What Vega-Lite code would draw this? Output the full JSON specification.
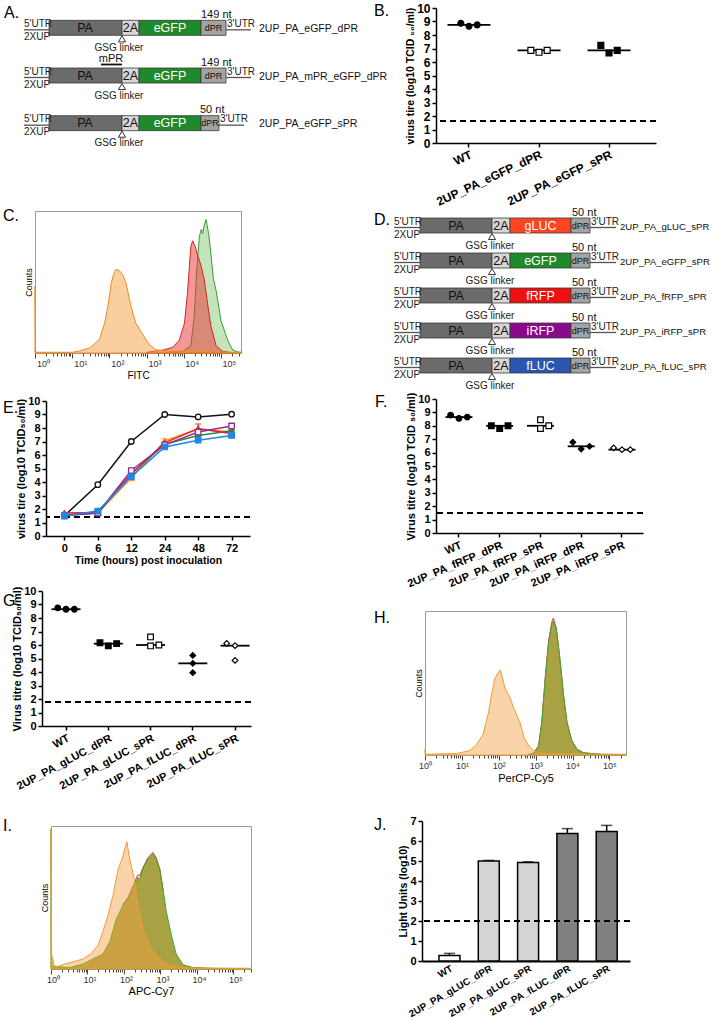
{
"$schema": "https://vega.github.io/schema/vega-lite/v6.json",
"background": "white",
"padding": 0,
"spacing": 0,
"bounds": "flush",
"resolve": {"scale": {"fill": "independent", "shape": "independent", "stroke": "independent", "color": "independent", "xOffset": "independent", "size": "independent", "opacity": "independent"}},
"config": {
  "view": {"stroke": null},
  "font": "Liberation Sans",
  "axis": {"labelFont": "Liberation Sans", "titleFont": "Liberation Sans", "labelColor": "#000", "titleColor": "#000", "domainColor": "#000", "tickColor": "#000", "grid": false},
  "title": {"font": "Liberation Sans", "fontSize": 16, "fontWeight": "normal", "anchor": "start", "frame": "group", "orient": "none", "baseline": "middle", "offset": 0, "color": "#000"},
  "text": {"font": "Liberation Sans"}
},
"vconcat": [
{"spacing":0,"bounds":"flush","vconcat":[
{"width":1,"height":1,"data":{"values":[{}]},"mark":{"type":"point","opacity":0}},
{"spacing":0,"bounds":"flush","hconcat":[
{"width":1,"height":1,"data":{"values":[{}]},"mark":{"type":"point","opacity":0}},
{
"width": 330, "height": 143,
"title": {"text": "A.", "dx": 0, "dy": 1},
"data": {"values": [
{"k":"seg","c":"2UP_PA_eGFP_dPR","part":"PA","s":45,"e":118,"x":81,"t":"PA"},
{"k":"seg","c":"2UP_PA_eGFP_dPR","part":"2A","s":118,"e":135,"x":126.5,"t":"2A"},
{"k":"seg","c":"2UP_PA_eGFP_dPR","part":"eGFP","s":135,"e":197,"x":166,"t":"eGFP"},
{"k":"seg","c":"2UP_PA_eGFP_dPR","part":"dPR","s":197,"e":222,"x":209.5,"t":"dPR"},
{"k":"utr","c":"2UP_PA_eGFP_dPR","s":20,"e":45},
{"k":"utr","c":"2UP_PA_eGFP_dPR","s":222,"e":247},
{"k":"up","c":"2UP_PA_eGFP_dPR","x":20,"t":"5'UTR"},
{"k":"up","c":"2UP_PA_eGFP_dPR","x":223,"t":"3'UTR"},
{"k":"down","c":"2UP_PA_eGFP_dPR","x":20,"t":"2XUP"},
{"k":"name","c":"2UP_PA_eGFP_dPR","x":255,"t":"2UP_PA_eGFP_dPR"},
{"k":"nt","c":"2UP_PA_eGFP_dPR","x":197,"t":"149 nt"},
{"k":"gsg","c":"2UP_PA_eGFP_dPR","x":115,"t":"GSG linker"},
{"k":"tri","c":"2UP_PA_eGFP_dPR","x":118},
{"k":"seg","c":"2UP_PA_mPR_eGFP_dPR","part":"PA","s":45,"e":118,"x":81,"t":"PA"},
{"k":"seg","c":"2UP_PA_mPR_eGFP_dPR","part":"2A","s":118,"e":135,"x":126.5,"t":"2A"},
{"k":"seg","c":"2UP_PA_mPR_eGFP_dPR","part":"eGFP","s":135,"e":197,"x":166,"t":"eGFP"},
{"k":"seg","c":"2UP_PA_mPR_eGFP_dPR","part":"dPR","s":197,"e":222,"x":209.5,"t":"dPR"},
{"k":"utr","c":"2UP_PA_mPR_eGFP_dPR","s":20,"e":45},
{"k":"utr","c":"2UP_PA_mPR_eGFP_dPR","s":222,"e":247},
{"k":"up","c":"2UP_PA_mPR_eGFP_dPR","x":20,"t":"5'UTR"},
{"k":"up","c":"2UP_PA_mPR_eGFP_dPR","x":223,"t":"3'UTR"},
{"k":"down","c":"2UP_PA_mPR_eGFP_dPR","x":20,"t":"2XUP"},
{"k":"name","c":"2UP_PA_mPR_eGFP_dPR","x":255,"t":"2UP_PA_mPR_eGFP_dPR"},
{"k":"nt","c":"2UP_PA_mPR_eGFP_dPR","x":197,"t":"149 nt"},
{"k":"gsg","c":"2UP_PA_mPR_eGFP_dPR","x":115,"t":"GSG linker"},
{"k":"tri","c":"2UP_PA_mPR_eGFP_dPR","x":118},
{"k":"mpr","c":"2UP_PA_mPR_eGFP_dPR","x":107,"t":"mPR"},
{"k":"ul","c":"2UP_PA_mPR_eGFP_dPR","s":97,"e":118},
{"k":"seg","c":"2UP_PA_eGFP_sPR","part":"PA","s":45,"e":118,"x":81,"t":"PA"},
{"k":"seg","c":"2UP_PA_eGFP_sPR","part":"2A","s":118,"e":135,"x":126.5,"t":"2A"},
{"k":"seg","c":"2UP_PA_eGFP_sPR","part":"eGFP","s":135,"e":197,"x":166,"t":"eGFP"},
{"k":"seg","c":"2UP_PA_eGFP_sPR","part":"dPR","s":197,"e":215,"x":206,"t":"dPR"},
{"k":"utr","c":"2UP_PA_eGFP_sPR","s":20,"e":45},
{"k":"utr","c":"2UP_PA_eGFP_sPR","s":215,"e":240},
{"k":"up","c":"2UP_PA_eGFP_sPR","x":20,"t":"5'UTR"},
{"k":"up","c":"2UP_PA_eGFP_sPR","x":216,"t":"3'UTR"},
{"k":"down","c":"2UP_PA_eGFP_sPR","x":20,"t":"2XUP"},
{"k":"name","c":"2UP_PA_eGFP_sPR","x":255,"t":"2UP_PA_eGFP_sPR"},
{"k":"nt","c":"2UP_PA_eGFP_sPR","x":196,"t":"50 nt"},
{"k":"gsg","c":"2UP_PA_eGFP_sPR","x":115,"t":"GSG linker"},
{"k":"tri","c":"2UP_PA_eGFP_sPR","x":118}
]},
"encoding": {"y": {"field":"c","type":"nominal","sort":null,"scale":{"domain":["2UP_PA_eGFP_dPR","2UP_PA_mPR_eGFP_dPR","2UP_PA_eGFP_sPR"],"paddingInner":0,"paddingOuter":0},"axis":null}},
"layer": [
{"transform":[{"filter":"datum.k=='utr'"}],"mark":{"type":"rule","color":"#555","strokeWidth":1.3,"yOffset":2},"encoding":{"x":{"field":"s","type":"quantitative","scale":{"domain":[0,330],"nice":false,"zero":false},"axis":null},"x2":{"field":"e"}}},
{"transform":[{"filter":"datum.k=='seg'"}],"mark":{"type":"bar","height":15,"stroke":"#3a3a3a","strokeWidth":0.8},"encoding":{"x":{"field":"s","type":"quantitative","scale":{"domain":[0,330],"nice":false,"zero":false},"axis":null},"x2":{"field":"e"},"fill":{"field":"part","type":"nominal","scale":{"domain":["PA","2A","dPR","eGFP","gLUC","fRFP","iRFP","fLUC"],"range":["#6b6b6b","#d6d6d6","#a3a3a3","#1f8a2c","#ff4422","#ee1111","#8b0a8b","#2a55b0"]},"legend":null}}},
{"transform":[{"filter":"datum.k=='seg'"}],"mark":{"type":"text","baseline":"middle"},"encoding":{"x":{"field":"x","type":"quantitative","axis":null},"text":{"field":"t"},"size":{"condition":{"test":"datum.part=='dPR'","value":9},"value":12.5},"color":{"condition":{"test":"indexof(['eGFP','gLUC','fRFP','iRFP','fLUC'],datum.part)>=0","value":"#ffffff"},"value":"#111111"}}},
{"transform":[{"filter":"datum.k=='up'"}],"mark":{"type":"text","align":"left","baseline":"alphabetic","dy":-1,"fontSize":10,"color":"#222"},"encoding":{"x":{"field":"x","type":"quantitative","axis":null},"text":{"field":"t"}}},
{"transform":[{"filter":"datum.k=='down'"}],"mark":{"type":"text","align":"left","baseline":"top","dy":4,"fontSize":10,"color":"#222"},"encoding":{"x":{"field":"x","type":"quantitative","axis":null},"text":{"field":"t"}}},
{"transform":[{"filter":"datum.k=='name'"}],"mark":{"type":"text","align":"left","baseline":"middle","dy":1,"fontSize":10.5,"color":"#111"},"encoding":{"x":{"field":"x","type":"quantitative","axis":null},"text":{"field":"t"}}},
{"transform":[{"filter":"datum.k=='nt'"}],"mark":{"type":"text","align":"left","baseline":"alphabetic","dy":-10,"fontSize":11,"color":"#111"},"encoding":{"x":{"field":"x","type":"quantitative","axis":null},"text":{"field":"t"}}},
{"transform":[{"filter":"datum.k=='gsg'"}],"mark":{"type":"text","align":"center","baseline":"middle","dy":20,"fontSize":10,"color":"#222"},"encoding":{"x":{"field":"x","type":"quantitative","axis":null},"text":{"field":"t"}}},
{"transform":[{"filter":"datum.k=='tri'"}],"mark":{"type":"point","shape":"triangle-up","size":50,"filled":true,"fill":"#ffffff","stroke":"#333","strokeWidth":1,"yOffset":11,"opacity":1},"encoding":{"x":{"field":"x","type":"quantitative","axis":null}}},
{"transform":[{"filter":"datum.k=='mpr'"}],"mark":{"type":"text","align":"center","baseline":"alphabetic","dy":-14,"fontSize":11,"color":"#111"},"encoding":{"x":{"field":"x","type":"quantitative","axis":null},"text":{"field":"t"}}},
{"transform":[{"filter":"datum.k=='ul'"}],"mark":{"type":"rule","color":"#111","strokeWidth":1.8,"yOffset":-11},"encoding":{"x":{"field":"s","type":"quantitative","axis":null},"x2":{"field":"e"}}}
]
}
]}
]},

{"spacing":0,"bounds":"flush","vconcat":[
{"width":1,"height":5,"data":{"values":[{}]},"mark":{"type":"point","opacity":0}},
{"spacing":0,"bounds":"flush","hconcat":[
{"width":433,"height":1,"data":{"values":[{}]},"mark":{"type":"point","opacity":0}},
{
"width": 220, "height": 135,
"title": {"text": "B.", "dx": -62, "dy": -5},
"data": {"values": [
{"g":"WT","rep":1,"v":8.87},{"g":"WT","rep":2,"v":8.65},{"g":"WT","rep":3,"v":8.75},
{"g":"2UP_PA_eGFP_dPR","rep":1,"v":6.86},{"g":"2UP_PA_eGFP_dPR","rep":2,"v":6.72},{"g":"2UP_PA_eGFP_dPR","rep":3,"v":6.86},
{"g":"2UP_PA_eGFP_sPR","rep":1,"v":7.23},{"g":"2UP_PA_eGFP_sPR","rep":2,"v":6.67},{"g":"2UP_PA_eGFP_sPR","rep":3,"v":6.86}
]},
"layer": [
{"mark":{"type":"rule","strokeDash":[6,4],"strokeWidth":1.5,"color":"#000"},"encoding":{"y":{"datum":1.64,"type":"quantitative","scale":{"domain":[0,10],"nice":false},"axis":{"title":"virus tire (log10 TCID ₅₀/ml)","values":[0,1,2,3,4,5,6,7,8,9,10],"labelFontWeight":"bold","labelFontSize":12,"titleFontWeight":"bold","titleFontSize":10.5,"titlePadding":1,"tickSize":4,"tickWidth":1.5,"domainWidth":1.5,"labelPadding":2}}}},
{"mark":{"type":"tick","size":43,"thickness":1.8,"color":"#000"},"encoding":{
 "x":{"field":"g","type":"nominal","sort":null,"scale":{"domain":["WT","2UP_PA_eGFP_dPR","2UP_PA_eGFP_sPR"],"paddingInner":0.65,"paddingOuter":0.396,"align":0.374},"axis":{"title":null,"labelAngle":-25,"labelFontWeight":"bold","labelFontSize":12,"tickSize":4,"tickWidth":1.5,"domainWidth":1.5,"labelPadding":2}},
 "y":{"aggregate":"median","field":"v","type":"quantitative","scale":{"domain":[0,10],"nice":false},"axis":{"title":"virus tire (log10 TCID ₅₀/ml)","values":[0,1,2,3,4,5,6,7,8,9,10],"labelFontWeight":"bold","labelFontSize":12,"titleFontWeight":"bold","titleFontSize":10.5,"titlePadding":1,"tickSize":4,"tickWidth":1.5,"domainWidth":1.5,"labelPadding":2}}}},
{"mark":{"type":"point","filled":true,"size":35,"stroke":"#000","strokeWidth":1.2,"opacity":1},"encoding":{
 "x":{"field":"g","type":"nominal","sort":null,"scale":{"domain":["WT","2UP_PA_eGFP_dPR","2UP_PA_eGFP_sPR"],"paddingInner":0.65,"paddingOuter":0.396,"align":0.374},"axis":{"title":null,"labelAngle":-25,"labelFontWeight":"bold","labelFontSize":12,"tickSize":4,"tickWidth":1.5,"domainWidth":1.5,"labelPadding":2}},
 "xOffset":{"field":"rep","type":"ordinal"},
 "y":{"field":"v","type":"quantitative","scale":{"domain":[0,10],"nice":false},"axis":{"title":"virus tire (log10 TCID ₅₀/ml)","values":[0,1,2,3,4,5,6,7,8,9,10],"labelFontWeight":"bold","labelFontSize":12,"titleFontWeight":"bold","titleFontSize":10.5,"titlePadding":1,"tickSize":4,"tickWidth":1.5,"domainWidth":1.5,"labelPadding":2}},
 "shape":{"field":"g","type":"nominal","scale":{"domain":["WT","2UP_PA_eGFP_dPR","2UP_PA_eGFP_sPR"],"range":["circle","square","square"]},"legend":null},
 "fill":{"field":"g","type":"nominal","scale":{"domain":["WT","2UP_PA_eGFP_dPR","2UP_PA_eGFP_sPR"],"range":["#000000","#ffffff","#000000"]},"legend":null}}}
]
}
]}
]},

{"spacing":0,"bounds":"flush","vconcat":[
{"width":1,"height":208,"data":{"values":[{}]},"mark":{"type":"point","opacity":0}},
{"spacing":0,"bounds":"flush","hconcat":[
{"width":32,"height":1,"data":{"values":[{}]},"mark":{"type":"point","opacity":0}},
{
"width": 206, "height": 142,
"view": {"stroke": "#9a9a9a", "strokeWidth": 1},
"title": {"text": "C.", "dx": -32, "dy": -3},
"data": {"values": [
{"s":"green","lg":3.5,"h":0.003},{"s":"green","lg":3.97,"h":0.01},{"s":"green","lg":4.19,"h":0.05},{"s":"green","lg":4.28,"h":0.25},{"s":"green","lg":4.35,"h":0.58},{"s":"green","lg":4.42,"h":0.82},{"s":"green","lg":4.47,"h":0.87},{"s":"green","lg":4.51,"h":0.84},{"s":"green","lg":4.55,"h":0.9},{"s":"green","lg":4.6,"h":0.94},{"s":"green","lg":4.67,"h":0.84},{"s":"green","lg":4.73,"h":0.7},{"s":"green","lg":4.8,"h":0.52},{"s":"green","lg":4.87,"h":0.44},{"s":"green","lg":5.0,"h":0.23},{"s":"green","lg":5.18,"h":0.09},{"s":"green","lg":5.32,"h":0.02},{"s":"green","lg":5.45,"h":0.008},{"s":"green","lg":5.54,"h":0.005},
{"s":"red","lg":3.0,"h":0.005},{"s":"red","lg":3.43,"h":0.02},{"s":"red","lg":3.7,"h":0.04},{"s":"red","lg":3.88,"h":0.09},{"s":"red","lg":4.02,"h":0.21},{"s":"red","lg":4.1,"h":0.42},{"s":"red","lg":4.19,"h":0.75},{"s":"red","lg":4.24,"h":0.79},{"s":"red","lg":4.31,"h":0.75},{"s":"red","lg":4.37,"h":0.69},{"s":"red","lg":4.46,"h":0.62},{"s":"red","lg":4.55,"h":0.52},{"s":"red","lg":4.64,"h":0.35},{"s":"red","lg":4.73,"h":0.19},{"s":"red","lg":4.87,"h":0.05},{"s":"red","lg":5.05,"h":0.01},{"s":"red","lg":5.3,"h":0.003},
{"s":"orange","lg":0,"h":0.47},{"s":"orange","lg":0.015,"h":0.02},{"s":"orange","lg":0.03,"h":0.005},{"s":"orange","lg":1.0,"h":0.005},{"s":"orange","lg":1.2,"h":0.015},{"s":"orange","lg":1.47,"h":0.036},{"s":"orange","lg":1.73,"h":0.094},{"s":"orange","lg":1.87,"h":0.21},{"s":"orange","lg":1.96,"h":0.33},{"s":"orange","lg":2.05,"h":0.49},{"s":"orange","lg":2.12,"h":0.56},{"s":"orange","lg":2.18,"h":0.59},{"s":"orange","lg":2.27,"h":0.58},{"s":"orange","lg":2.36,"h":0.55},{"s":"orange","lg":2.45,"h":0.49},{"s":"orange","lg":2.58,"h":0.33},{"s":"orange","lg":2.71,"h":0.21},{"s":"orange","lg":2.9,"h":0.13},{"s":"orange","lg":3.07,"h":0.06},{"s":"orange","lg":3.25,"h":0.023},{"s":"orange","lg":3.6,"h":0.012},{"s":"orange","lg":4.2,"h":0.015},{"s":"orange","lg":4.5,"h":0.012},{"s":"orange","lg":5.0,"h":0.006},{"s":"orange","lg":5.54,"h":0.004}
]},
"encoding": {
 "x": {"field":"lg","type":"quantitative","scale":{"domain":[0,5.54],"nice":false,"zero":false},"axis":{"title":"FITC","titleFontWeight":"normal","titleFontSize":10,"titlePadding":2,"values":[0,0.301,0.477,0.602,0.699,0.778,0.845,0.903,0.954,1,1.301,1.477,1.602,1.699,1.778,1.845,1.903,1.954,2,2.301,2.477,2.602,2.699,2.778,2.845,2.903,2.954,3,3.301,3.477,3.602,3.699,3.778,3.845,3.903,3.954,4,4.301,4.477,4.602,4.699,4.778,4.845,4.903,4.954,5,5.301,5.477],"labelExpr":"datum.value % 1 == 0 ? '10' + ['⁰','¹','²','³','⁴','⁵'][datum.value] : ''","labelFontSize":9,"labelColor":"#333","labelPadding":1,"labelOffset":8,"labelFlush":false,"labelOverlap":false,"tickSize":{"condition":{"test":"datum.value % 1 == 0","value":5},"value":3},"tickColor":"#444","tickWidth":1,"domain":false}},
 "y": {"field":"h","type":"quantitative","stack":null,"scale":{"domain":[0,1],"nice":false},"axis":{"title":"Counts","labels":false,"ticks":false,"domain":false,"titleFontWeight":"normal","titleFontSize":9,"titlePadding":2}}
},
"layer": [
{"transform":[{"filter":"datum.s=='green'"}],"mark":{"type":"area","fill":"#7cc46a","fillOpacity":0.45,"stroke":"#3a9a35","strokeWidth":1}},
{"transform":[{"filter":"datum.s=='red'"}],"mark":{"type":"area","fill":"#ee3030","fillOpacity":0.5,"stroke":"#dd2222","strokeWidth":1}},
{"transform":[{"filter":"datum.s=='orange'"}],"mark":{"type":"area","fill":"#f5a040","fillOpacity":0.5,"stroke":"#f08a20","strokeWidth":1}}
]
}
]}
]},

{"spacing":0,"bounds":"flush","vconcat":[
{"width":1,"height":205,"data":{"values":[{}]},"mark":{"type":"point","opacity":0}},
{"spacing":0,"bounds":"flush","hconcat":[
{"width":370,"height":1,"data":{"values":[{}]},"mark":{"type":"point","opacity":0}},
{
"width": 342, "height": 175,
"title": {"text": "D.", "dx": 1, "dy": 4},
"data": {"values": [
{"k":"seg","c":"2UP_PA_gLUC_sPR","part":"PA","s":47,"e":119,"x":83,"t":"PA"},
{"k":"seg","c":"2UP_PA_gLUC_sPR","part":"2A","s":119,"e":137,"x":128,"t":"2A"},
{"k":"seg","c":"2UP_PA_gLUC_sPR","part":"gLUC","s":137,"e":198,"x":167.5,"t":"gLUC"},
{"k":"seg","c":"2UP_PA_gLUC_sPR","part":"dPR","s":198,"e":217,"x":207.5,"t":"dPR"},
{"k":"utr","c":"2UP_PA_gLUC_sPR","s":21,"e":47},
{"k":"utr","c":"2UP_PA_gLUC_sPR","s":217,"e":243},
{"k":"up","c":"2UP_PA_gLUC_sPR","x":21,"t":"5'UTR"},
{"k":"up","c":"2UP_PA_gLUC_sPR","x":218,"t":"3'UTR"},
{"k":"down","c":"2UP_PA_gLUC_sPR","x":21,"t":"2XUP"},
{"k":"name","c":"2UP_PA_gLUC_sPR","x":247,"t":"2UP_PA_gLUC_sPR"},
{"k":"nt","c":"2UP_PA_gLUC_sPR","x":199,"t":"50 nt"},
{"k":"gsg","c":"2UP_PA_gLUC_sPR","x":117,"t":"GSG linker"},
{"k":"tri","c":"2UP_PA_gLUC_sPR","x":119},
{"k":"seg","c":"2UP_PA_eGFP_sPR","part":"PA","s":47,"e":119,"x":83,"t":"PA"},
{"k":"seg","c":"2UP_PA_eGFP_sPR","part":"2A","s":119,"e":137,"x":128,"t":"2A"},
{"k":"seg","c":"2UP_PA_eGFP_sPR","part":"eGFP","s":137,"e":198,"x":167.5,"t":"eGFP"},
{"k":"seg","c":"2UP_PA_eGFP_sPR","part":"dPR","s":198,"e":217,"x":207.5,"t":"dPR"},
{"k":"utr","c":"2UP_PA_eGFP_sPR","s":21,"e":47},
{"k":"utr","c":"2UP_PA_eGFP_sPR","s":217,"e":243},
{"k":"up","c":"2UP_PA_eGFP_sPR","x":21,"t":"5'UTR"},
{"k":"up","c":"2UP_PA_eGFP_sPR","x":218,"t":"3'UTR"},
{"k":"down","c":"2UP_PA_eGFP_sPR","x":21,"t":"2XUP"},
{"k":"name","c":"2UP_PA_eGFP_sPR","x":247,"t":"2UP_PA_eGFP_sPR"},
{"k":"nt","c":"2UP_PA_eGFP_sPR","x":199,"t":"50 nt"},
{"k":"gsg","c":"2UP_PA_eGFP_sPR","x":117,"t":"GSG linker"},
{"k":"tri","c":"2UP_PA_eGFP_sPR","x":119},
{"k":"seg","c":"2UP_PA_fRFP_sPR","part":"PA","s":47,"e":119,"x":83,"t":"PA"},
{"k":"seg","c":"2UP_PA_fRFP_sPR","part":"2A","s":119,"e":137,"x":128,"t":"2A"},
{"k":"seg","c":"2UP_PA_fRFP_sPR","part":"fRFP","s":137,"e":198,"x":167.5,"t":"fRFP"},
{"k":"seg","c":"2UP_PA_fRFP_sPR","part":"dPR","s":198,"e":217,"x":207.5,"t":"dPR"},
{"k":"utr","c":"2UP_PA_fRFP_sPR","s":21,"e":47},
{"k":"utr","c":"2UP_PA_fRFP_sPR","s":217,"e":243},
{"k":"up","c":"2UP_PA_fRFP_sPR","x":21,"t":"5'UTR"},
{"k":"up","c":"2UP_PA_fRFP_sPR","x":218,"t":"3'UTR"},
{"k":"down","c":"2UP_PA_fRFP_sPR","x":21,"t":"2XUP"},
{"k":"name","c":"2UP_PA_fRFP_sPR","x":247,"t":"2UP_PA_fRFP_sPR"},
{"k":"nt","c":"2UP_PA_fRFP_sPR","x":199,"t":"50 nt"},
{"k":"gsg","c":"2UP_PA_fRFP_sPR","x":117,"t":"GSG linker"},
{"k":"tri","c":"2UP_PA_fRFP_sPR","x":119},
{"k":"seg","c":"2UP_PA_iRFP_sPR","part":"PA","s":47,"e":119,"x":83,"t":"PA"},
{"k":"seg","c":"2UP_PA_iRFP_sPR","part":"2A","s":119,"e":137,"x":128,"t":"2A"},
{"k":"seg","c":"2UP_PA_iRFP_sPR","part":"iRFP","s":137,"e":198,"x":167.5,"t":"iRFP"},
{"k":"seg","c":"2UP_PA_iRFP_sPR","part":"dPR","s":198,"e":217,"x":207.5,"t":"dPR"},
{"k":"utr","c":"2UP_PA_iRFP_sPR","s":21,"e":47},
{"k":"utr","c":"2UP_PA_iRFP_sPR","s":217,"e":243},
{"k":"up","c":"2UP_PA_iRFP_sPR","x":21,"t":"5'UTR"},
{"k":"up","c":"2UP_PA_iRFP_sPR","x":218,"t":"3'UTR"},
{"k":"down","c":"2UP_PA_iRFP_sPR","x":21,"t":"2XUP"},
{"k":"name","c":"2UP_PA_iRFP_sPR","x":247,"t":"2UP_PA_iRFP_sPR"},
{"k":"nt","c":"2UP_PA_iRFP_sPR","x":199,"t":"50 nt"},
{"k":"gsg","c":"2UP_PA_iRFP_sPR","x":117,"t":"GSG linker"},
{"k":"tri","c":"2UP_PA_iRFP_sPR","x":119},
{"k":"seg","c":"2UP_PA_fLUC_sPR","part":"PA","s":47,"e":119,"x":83,"t":"PA"},
{"k":"seg","c":"2UP_PA_fLUC_sPR","part":"2A","s":119,"e":137,"x":128,"t":"2A"},
{"k":"seg","c":"2UP_PA_fLUC_sPR","part":"fLUC","s":137,"e":198,"x":167.5,"t":"fLUC"},
{"k":"seg","c":"2UP_PA_fLUC_sPR","part":"dPR","s":198,"e":217,"x":207.5,"t":"dPR"},
{"k":"utr","c":"2UP_PA_fLUC_sPR","s":21,"e":47},
{"k":"utr","c":"2UP_PA_fLUC_sPR","s":217,"e":243},
{"k":"up","c":"2UP_PA_fLUC_sPR","x":21,"t":"5'UTR"},
{"k":"up","c":"2UP_PA_fLUC_sPR","x":218,"t":"3'UTR"},
{"k":"down","c":"2UP_PA_fLUC_sPR","x":21,"t":"2XUP"},
{"k":"name","c":"2UP_PA_fLUC_sPR","x":247,"t":"2UP_PA_fLUC_sPR"},
{"k":"nt","c":"2UP_PA_fLUC_sPR","x":199,"t":"50 nt"},
{"k":"gsg","c":"2UP_PA_fLUC_sPR","x":117,"t":"GSG linker"},
{"k":"tri","c":"2UP_PA_fLUC_sPR","x":119}
]},
"encoding": {"y": {"field":"c","type":"nominal","sort":null,"scale":{"domain":["2UP_PA_gLUC_sPR","2UP_PA_eGFP_sPR","2UP_PA_fRFP_sPR","2UP_PA_iRFP_sPR","2UP_PA_fLUC_sPR"],"paddingInner":0,"paddingOuter":0},"axis":null}},
"layer": [
{"transform":[{"filter":"datum.k=='utr'"}],"mark":{"type":"rule","color":"#555","strokeWidth":1.3,"yOffset":2},"encoding":{"x":{"field":"s","type":"quantitative","scale":{"domain":[0,342],"nice":false,"zero":false},"axis":null},"x2":{"field":"e"}}},
{"transform":[{"filter":"datum.k=='seg'"}],"mark":{"type":"bar","height":15,"stroke":"#3a3a3a","strokeWidth":0.8},"encoding":{"x":{"field":"s","type":"quantitative","scale":{"domain":[0,342],"nice":false,"zero":false},"axis":null},"x2":{"field":"e"},"fill":{"field":"part","type":"nominal","scale":{"domain":["PA","2A","dPR","eGFP","gLUC","fRFP","iRFP","fLUC"],"range":["#6b6b6b","#d6d6d6","#a3a3a3","#1f8a2c","#ff4422","#ee1111","#8b0a8b","#2a55b0"]},"legend":null}}},
{"transform":[{"filter":"datum.k=='seg'"}],"mark":{"type":"text","baseline":"middle"},"encoding":{"x":{"field":"x","type":"quantitative","axis":null},"text":{"field":"t"},"size":{"condition":{"test":"datum.part=='dPR'","value":9},"value":12.5},"color":{"condition":{"test":"indexof(['eGFP','gLUC','fRFP','iRFP','fLUC'],datum.part)>=0","value":"#ffffff"},"value":"#111111"}}},
{"transform":[{"filter":"datum.k=='up'"}],"mark":{"type":"text","align":"left","baseline":"alphabetic","dy":-1,"fontSize":10,"color":"#222"},"encoding":{"x":{"field":"x","type":"quantitative","axis":null},"text":{"field":"t"}}},
{"transform":[{"filter":"datum.k=='down'"}],"mark":{"type":"text","align":"left","baseline":"top","dy":4,"fontSize":10,"color":"#222"},"encoding":{"x":{"field":"x","type":"quantitative","axis":null},"text":{"field":"t"}}},
{"transform":[{"filter":"datum.k=='name'"}],"mark":{"type":"text","align":"left","baseline":"middle","dy":1,"fontSize":9.6,"color":"#111"},"encoding":{"x":{"field":"x","type":"quantitative","axis":null},"text":{"field":"t"}}},
{"transform":[{"filter":"datum.k=='nt'"}],"mark":{"type":"text","align":"left","baseline":"alphabetic","dy":-10,"fontSize":11,"color":"#111"},"encoding":{"x":{"field":"x","type":"quantitative","axis":null},"text":{"field":"t"}}},
{"transform":[{"filter":"datum.k=='gsg'"}],"mark":{"type":"text","align":"center","baseline":"middle","dy":20,"fontSize":10,"color":"#222"},"encoding":{"x":{"field":"x","type":"quantitative","axis":null},"text":{"field":"t"}}},
{"transform":[{"filter":"datum.k=='tri'"}],"mark":{"type":"point","shape":"triangle-up","size":50,"filled":true,"fill":"#ffffff","stroke":"#333","strokeWidth":1,"yOffset":11,"opacity":1},"encoding":{"x":{"field":"x","type":"quantitative","axis":null}}}
]
}
]}
]},

{"spacing":0,"bounds":"flush","vconcat":[
{"width":1,"height":398,"data":{"values":[{}]},"mark":{"type":"point","opacity":0}},
{"spacing":0,"bounds":"flush","hconcat":[
{"width":43,"height":1,"data":{"values":[{}]},"mark":{"type":"point","opacity":0}},
{
"width": 204, "height": 135,
"title": {"text": "E.", "dx": -43, "dy": -1},
"data": {"values": [
{"s":"WT","t":0,"v":1.5},{"s":"WT","t":6,"v":3.8,"lo":3.65,"hi":3.95},{"s":"WT","t":12,"v":7.0},{"s":"WT","t":24,"v":9.0},{"s":"WT","t":48,"v":8.82},{"s":"WT","t":72,"v":9.02},
{"s":"gLUC","t":0,"v":1.6},{"s":"gLUC","t":6,"v":1.7},{"s":"gLUC","t":12,"v":4.3},{"s":"gLUC","t":24,"v":7.05,"lo":6.9,"hi":7.2},{"s":"gLUC","t":48,"v":7.95},{"s":"gLUC","t":72,"v":7.7},
{"s":"eGFP","t":0,"v":1.55},{"s":"eGFP","t":6,"v":1.7},{"s":"eGFP","t":12,"v":4.6},{"s":"eGFP","t":24,"v":6.8},{"s":"eGFP","t":48,"v":7.45},{"s":"eGFP","t":72,"v":7.8},
{"s":"fRFP","t":0,"v":1.7},{"s":"fRFP","t":6,"v":1.75},{"s":"fRFP","t":12,"v":4.6},{"s":"fRFP","t":24,"v":6.9},{"s":"fRFP","t":48,"v":7.95,"lo":7.65,"hi":8.3},{"s":"fRFP","t":72,"v":7.6},
{"s":"iRFP","t":0,"v":1.5},{"s":"iRFP","t":6,"v":1.7},{"s":"iRFP","t":12,"v":4.85},{"s":"iRFP","t":24,"v":6.75},{"s":"iRFP","t":48,"v":7.7},{"s":"iRFP","t":72,"v":8.15,"lo":8.0,"hi":8.3},
{"s":"fLUC","t":0,"v":1.5},{"s":"fLUC","t":6,"v":1.85,"lo":1.65,"hi":2.0},{"s":"fLUC","t":12,"v":4.4},{"s":"fLUC","t":24,"v":6.6},{"s":"fLUC","t":48,"v":7.1,"lo":6.85,"hi":7.35},{"s":"fLUC","t":72,"v":7.45,"lo":7.35,"hi":7.55}
]},
"layer": [
{"mark":{"type":"rule","strokeDash":[6,4],"strokeWidth":1.5,"color":"#000"},"encoding":{"y":{"datum":1.4,"type":"quantitative","scale":{"domain":[0,10],"nice":false},"axis":{"title":"virus tire (log10 TCID₅₀/ml)","values":[0,1,2,3,4,5,6,7,8,9,10],"labelFontWeight":"bold","labelFontSize":11,"titleFontWeight":"bold","titleFontSize":11,"titlePadding":1,"tickSize":4,"tickWidth":1.5,"domainWidth":1.5,"labelPadding":2}}}},
{"transform":[{"filter":"isValid(datum.lo)"}],"mark":{"type":"rule","strokeWidth":1.2},"encoding":{
 "x":{"field":"t","type":"ordinal","scale":{"type":"point","padding":0.55},"axis":{"title":"Time (hours) post inoculation","labelAngle":0,"labelFontWeight":"bold","labelFontSize":11,"titleFontWeight":"bold","titleFontSize":10.5,"tickSize":4,"tickWidth":1.5,"domainWidth":1.5,"titlePadding":2}},
 "y":{"field":"lo","type":"quantitative","scale":{"domain":[0,10],"nice":false},"axis":{"title":"virus tire (log10 TCID₅₀/ml)","values":[0,1,2,3,4,5,6,7,8,9,10],"labelFontWeight":"bold","labelFontSize":11,"titleFontWeight":"bold","titleFontSize":11,"titlePadding":1,"tickSize":4,"tickWidth":1.5,"domainWidth":1.5,"labelPadding":2}},
 "y2":{"field":"hi"},
 "color":{"field":"s","type":"nominal","scale":{"domain":["fLUC","eGFP","iRFP","fRFP","gLUC","WT"],"range":["#1e88e5","#2e8b3e","#8e2c9a","#e8202a","#f7941d","#111111"]},"legend":null}}},
{"transform":[{"filter":"isValid(datum.lo)"}],"mark":{"type":"tick","size":6,"thickness":1.2},"encoding":{
 "x":{"field":"t","type":"ordinal","scale":{"type":"point","padding":0.55},"axis":{"title":"Time (hours) post inoculation","labelAngle":0,"labelFontWeight":"bold","labelFontSize":11,"titleFontWeight":"bold","titleFontSize":10.5,"tickSize":4,"tickWidth":1.5,"domainWidth":1.5,"titlePadding":2}},
 "y":{"field":"hi","type":"quantitative","scale":{"domain":[0,10],"nice":false},"axis":{"title":"virus tire (log10 TCID₅₀/ml)","values":[0,1,2,3,4,5,6,7,8,9,10],"labelFontWeight":"bold","labelFontSize":11,"titleFontWeight":"bold","titleFontSize":11,"titlePadding":1,"tickSize":4,"tickWidth":1.5,"domainWidth":1.5,"labelPadding":2}},
 "color":{"field":"s","type":"nominal","scale":{"domain":["fLUC","eGFP","iRFP","fRFP","gLUC","WT"],"range":["#1e88e5","#2e8b3e","#8e2c9a","#e8202a","#f7941d","#111111"]},"legend":null}}},
{"mark":{"type":"line","strokeWidth":1.5},"encoding":{
 "x":{"field":"t","type":"ordinal","scale":{"type":"point","padding":0.55},"axis":{"title":"Time (hours) post inoculation","labelAngle":0,"labelFontWeight":"bold","labelFontSize":11,"titleFontWeight":"bold","titleFontSize":10.5,"tickSize":4,"tickWidth":1.5,"domainWidth":1.5,"titlePadding":2}},
 "y":{"field":"v","type":"quantitative","scale":{"domain":[0,10],"nice":false},"axis":{"title":"virus tire (log10 TCID₅₀/ml)","values":[0,1,2,3,4,5,6,7,8,9,10],"labelFontWeight":"bold","labelFontSize":11,"titleFontWeight":"bold","titleFontSize":11,"titlePadding":1,"tickSize":4,"tickWidth":1.5,"domainWidth":1.5,"labelPadding":2}},
 "color":{"field":"s","type":"nominal","scale":{"domain":["fLUC","eGFP","iRFP","fRFP","gLUC","WT"],"range":["#1e88e5","#2e8b3e","#8e2c9a","#e8202a","#f7941d","#111111"]},"legend":null}}},
{"mark":{"type":"point","filled":true,"size":30,"strokeWidth":1.3,"opacity":1},"encoding":{
 "x":{"field":"t","type":"ordinal","scale":{"type":"point","padding":0.55},"axis":{"title":"Time (hours) post inoculation","labelAngle":0,"labelFontWeight":"bold","labelFontSize":11,"titleFontWeight":"bold","titleFontSize":10.5,"tickSize":4,"tickWidth":1.5,"domainWidth":1.5,"titlePadding":2}},
 "y":{"field":"v","type":"quantitative","scale":{"domain":[0,10],"nice":false},"axis":{"title":"virus tire (log10 TCID₅₀/ml)","values":[0,1,2,3,4,5,6,7,8,9,10],"labelFontWeight":"bold","labelFontSize":11,"titleFontWeight":"bold","titleFontSize":11,"titlePadding":1,"tickSize":4,"tickWidth":1.5,"domainWidth":1.5,"labelPadding":2}},
 "stroke":{"field":"s","type":"nominal","scale":{"domain":["fLUC","eGFP","iRFP","fRFP","gLUC","WT"],"range":["#1e88e5","#2e8b3e","#8e2c9a","#e8202a","#f7941d","#111111"]},"legend":null},
 "fill":{"field":"s","type":"nominal","scale":{"domain":["fLUC","eGFP","iRFP","fRFP","gLUC","WT"],"range":["#1e88e5","#2e8b3e","#ffffff","#e8202a","#f7941d","#ffffff"]},"legend":null},
 "shape":{"field":"s","type":"nominal","scale":{"domain":["fLUC","eGFP","iRFP","fRFP","gLUC","WT"],"range":["square","diamond","square","triangle-up","triangle-up","circle"]},"legend":null}}}
]
}
]}
]},

{"spacing":0,"bounds":"flush","vconcat":[
{"width":1,"height":396,"data":{"values":[{}]},"mark":{"type":"point","opacity":0}},
{"spacing":0,"bounds":"flush","hconcat":[
{"width":433,"height":1,"data":{"values":[{}]},"mark":{"type":"point","opacity":0}},
{
"width": 207, "height": 134,
"title": {"text": "F.", "dx": -61, "dy": -5},
"data": {"values": [
{"g":"WT","rep":1,"v":8.8},{"g":"WT","rep":2,"v":8.55},{"g":"WT","rep":3,"v":8.65},
{"g":"2UP_PA_fRFP_dPR","rep":1,"v":8.0},{"g":"2UP_PA_fRFP_dPR","rep":2,"v":7.8},{"g":"2UP_PA_fRFP_dPR","rep":3,"v":8.0},
{"g":"2UP_PA_fRFP_sPR","rep":2,"v":8.45},{"g":"2UP_PA_fRFP_sPR","rep":2,"v":7.8},{"g":"2UP_PA_fRFP_sPR","rep":3,"v":8.0},
{"g":"2UP_PA_iRFP_dPR","rep":1,"v":6.77},{"g":"2UP_PA_iRFP_dPR","rep":2,"v":6.27},{"g":"2UP_PA_iRFP_dPR","rep":3,"v":6.47},
{"g":"2UP_PA_iRFP_sPR","rep":1,"v":6.35},{"g":"2UP_PA_iRFP_sPR","rep":2,"v":6.22},{"g":"2UP_PA_iRFP_sPR","rep":3,"v":6.22}
]},
"layer": [
{"mark":{"type":"rule","strokeDash":[6,4],"strokeWidth":1.5,"color":"#000"},"encoding":{"y":{"datum":1.5,"type":"quantitative","scale":{"domain":[0,10],"nice":false},"axis":{"title":"Virus titre (log10 TCID ₅₀/ml)","values":[0,1,2,3,4,5,6,7,8,9,10],"labelFontWeight":"bold","labelFontSize":11,"titleFontWeight":"bold","titleFontSize":11,"titlePadding":1,"tickSize":4,"tickWidth":1.5,"domainWidth":1.5,"labelPadding":2}}}},
{"mark":{"type":"tick","size":27,"thickness":1.8,"color":"#000"},"encoding":{
 "x":{"field":"g","type":"nominal","sort":null,"scale":{"domain":["WT","2UP_PA_fRFP_dPR","2UP_PA_fRFP_sPR","2UP_PA_iRFP_dPR","2UP_PA_iRFP_sPR"],"paddingInner":0.386,"paddingOuter":0.233,"align":0.55},"axis":{"title":null,"labelAngle":-23,"labelFontWeight":"bold","labelFontSize":11,"tickSize":4,"tickWidth":1.5,"domainWidth":1.5,"labelPadding":2}},
 "y":{"aggregate":"median","field":"v","type":"quantitative","scale":{"domain":[0,10],"nice":false},"axis":{"title":"Virus titre (log10 TCID ₅₀/ml)","values":[0,1,2,3,4,5,6,7,8,9,10],"labelFontWeight":"bold","labelFontSize":11,"titleFontWeight":"bold","titleFontSize":11,"titlePadding":1,"tickSize":4,"tickWidth":1.5,"domainWidth":1.5,"labelPadding":2}}}},
{"mark":{"type":"point","filled":true,"size":32,"stroke":"#000","strokeWidth":1.2,"opacity":1},"encoding":{
 "x":{"field":"g","type":"nominal","sort":null,"scale":{"domain":["WT","2UP_PA_fRFP_dPR","2UP_PA_fRFP_sPR","2UP_PA_iRFP_dPR","2UP_PA_iRFP_sPR"],"paddingInner":0.386,"paddingOuter":0.233,"align":0.55},"axis":{"title":null,"labelAngle":-23,"labelFontWeight":"bold","labelFontSize":11,"tickSize":4,"tickWidth":1.5,"domainWidth":1.5,"labelPadding":2}},
 "xOffset":{"field":"rep","type":"ordinal"},
 "y":{"field":"v","type":"quantitative","scale":{"domain":[0,10],"nice":false},"axis":{"title":"Virus titre (log10 TCID ₅₀/ml)","values":[0,1,2,3,4,5,6,7,8,9,10],"labelFontWeight":"bold","labelFontSize":11,"titleFontWeight":"bold","titleFontSize":11,"titlePadding":1,"tickSize":4,"tickWidth":1.5,"domainWidth":1.5,"labelPadding":2}},
 "shape":{"field":"g","type":"nominal","scale":{"domain":["WT","2UP_PA_fRFP_dPR","2UP_PA_fRFP_sPR","2UP_PA_iRFP_dPR","2UP_PA_iRFP_sPR"],"range":["circle","square","square","diamond","diamond"]},"legend":null},
 "fill":{"field":"g","type":"nominal","scale":{"domain":["WT","2UP_PA_fRFP_dPR","2UP_PA_fRFP_sPR","2UP_PA_iRFP_dPR","2UP_PA_iRFP_sPR"],"range":["#000000","#000000","#ffffff","#000000","#ffffff"]},"legend":null}}}
]
}
]}
]},

{"spacing":0,"bounds":"flush","vconcat":[
{"width":1,"height":588,"data":{"values":[{}]},"mark":{"type":"point","opacity":0}},
{"spacing":0,"bounds":"flush","hconcat":[
{"width":39,"height":1,"data":{"values":[{}]},"mark":{"type":"point","opacity":0}},
{
"width": 209, "height": 135,
"title": {"text": "G.", "dx": -39, "dy": 2},
"data": {"values": [
{"g":"WT","rep":1,"v":8.75},{"g":"WT","rep":2,"v":8.65},{"g":"WT","rep":3,"v":8.65},
{"g":"2UP_PA_gLUC_dPR","rep":1,"v":6.17},{"g":"2UP_PA_gLUC_dPR","rep":2,"v":5.93},{"g":"2UP_PA_gLUC_dPR","rep":3,"v":6.1},
{"g":"2UP_PA_gLUC_sPR","rep":2,"v":6.6},{"g":"2UP_PA_gLUC_sPR","rep":2,"v":5.93},{"g":"2UP_PA_gLUC_sPR","rep":3,"v":6.0},
{"g":"2UP_PA_fLUC_dPR","rep":2,"v":5.23},{"g":"2UP_PA_fLUC_dPR","rep":2,"v":4.64},{"g":"2UP_PA_fLUC_dPR","rep":2,"v":3.95},
{"g":"2UP_PA_fLUC_sPR","rep":1,"v":6.12},{"g":"2UP_PA_fLUC_sPR","rep":2,"v":5.95},{"g":"2UP_PA_fLUC_sPR","rep":2,"v":4.86}
]},
"layer": [
{"mark":{"type":"rule","strokeDash":[6,4],"strokeWidth":1.5,"color":"#000"},"encoding":{"y":{"datum":1.8,"type":"quantitative","scale":{"domain":[0,10],"nice":false},"axis":{"title":"Virus titre (log10 TCID₅₀/ml)","values":[0,1,2,3,4,5,6,7,8,9,10],"labelFontWeight":"bold","labelFontSize":11,"titleFontWeight":"bold","titleFontSize":11,"titlePadding":1,"tickSize":4,"tickWidth":1.5,"domainWidth":1.5,"labelPadding":2}}}},
{"mark":{"type":"tick","size":29,"thickness":1.8,"color":"#000"},"encoding":{
 "x":{"field":"g","type":"nominal","sort":null,"scale":{"domain":["WT","2UP_PA_gLUC_dPR","2UP_PA_gLUC_sPR","2UP_PA_fLUC_dPR","2UP_PA_fLUC_sPR"],"paddingInner":0.408,"paddingOuter":0.1775,"align":0.77},"axis":{"title":null,"labelAngle":-28,"labelFontWeight":"bold","labelFontSize":11,"tickSize":4,"tickWidth":1.5,"domainWidth":1.5,"labelPadding":2}},
 "y":{"aggregate":"median","field":"v","type":"quantitative","scale":{"domain":[0,10],"nice":false},"axis":{"title":"Virus titre (log10 TCID₅₀/ml)","values":[0,1,2,3,4,5,6,7,8,9,10],"labelFontWeight":"bold","labelFontSize":11,"titleFontWeight":"bold","titleFontSize":11,"titlePadding":1,"tickSize":4,"tickWidth":1.5,"domainWidth":1.5,"labelPadding":2}}}},
{"mark":{"type":"point","filled":true,"size":32,"stroke":"#000","strokeWidth":1.2,"opacity":1},"encoding":{
 "x":{"field":"g","type":"nominal","sort":null,"scale":{"domain":["WT","2UP_PA_gLUC_dPR","2UP_PA_gLUC_sPR","2UP_PA_fLUC_dPR","2UP_PA_fLUC_sPR"],"paddingInner":0.408,"paddingOuter":0.1775,"align":0.77},"axis":{"title":null,"labelAngle":-28,"labelFontWeight":"bold","labelFontSize":11,"tickSize":4,"tickWidth":1.5,"domainWidth":1.5,"labelPadding":2}},
 "xOffset":{"field":"rep","type":"ordinal"},
 "y":{"field":"v","type":"quantitative","scale":{"domain":[0,10],"nice":false},"axis":{"title":"Virus titre (log10 TCID₅₀/ml)","values":[0,1,2,3,4,5,6,7,8,9,10],"labelFontWeight":"bold","labelFontSize":11,"titleFontWeight":"bold","titleFontSize":11,"titlePadding":1,"tickSize":4,"tickWidth":1.5,"domainWidth":1.5,"labelPadding":2}},
 "shape":{"field":"g","type":"nominal","scale":{"domain":["WT","2UP_PA_gLUC_dPR","2UP_PA_gLUC_sPR","2UP_PA_fLUC_dPR","2UP_PA_fLUC_sPR"],"range":["circle","square","square","diamond","diamond"]},"legend":null},
 "fill":{"field":"g","type":"nominal","scale":{"domain":["WT","2UP_PA_gLUC_dPR","2UP_PA_gLUC_sPR","2UP_PA_fLUC_dPR","2UP_PA_fLUC_sPR"],"range":["#000000","#000000","#ffffff","#000000","#ffffff"]},"legend":null}}}
]
}
]}
]},

{"spacing":0,"bounds":"flush","vconcat":[
{"width":1,"height":608,"data":{"values":[{}]},"mark":{"type":"point","opacity":0}},
{"spacing":0,"bounds":"flush","hconcat":[
{"width":422,"height":1,"data":{"values":[{}]},"mark":{"type":"point","opacity":0}},
{
"width": 201, "height": 144,
"view": {"stroke": "#9a9a9a", "strokeWidth": 1},
"title": {"text": "H.", "dx": -51, "dy": -1},
"data": {"values": [
{"s":"red","lg":2.8,"h":0.003},{"s":"red","lg":2.94,"h":0.012},{"s":"red","lg":3.08,"h":0.065},{"s":"red","lg":3.17,"h":0.24},{"s":"red","lg":3.26,"h":0.54},{"s":"red","lg":3.35,"h":0.79},{"s":"red","lg":3.44,"h":0.925},{"s":"red","lg":3.48,"h":0.95},{"s":"red","lg":3.56,"h":0.88},{"s":"red","lg":3.65,"h":0.68},{"s":"red","lg":3.76,"h":0.4},{"s":"red","lg":3.85,"h":0.22},{"s":"red","lg":3.98,"h":0.1},{"s":"red","lg":4.12,"h":0.04},{"s":"red","lg":4.3,"h":0.015},{"s":"red","lg":4.75,"h":0.005},
{"s":"green","lg":2.8,"h":0.003},{"s":"green","lg":2.94,"h":0.01},{"s":"green","lg":3.08,"h":0.06},{"s":"green","lg":3.17,"h":0.23},{"s":"green","lg":3.26,"h":0.53},{"s":"green","lg":3.35,"h":0.78},{"s":"green","lg":3.44,"h":0.91},{"s":"green","lg":3.48,"h":0.93},{"s":"green","lg":3.56,"h":0.88},{"s":"green","lg":3.65,"h":0.69},{"s":"green","lg":3.76,"h":0.41},{"s":"green","lg":3.85,"h":0.23},{"s":"green","lg":3.98,"h":0.1},{"s":"green","lg":4.12,"h":0.04},{"s":"green","lg":4.3,"h":0.015},{"s":"green","lg":4.75,"h":0.005},{"s":"green","lg":5.45,"h":0.003},
{"s":"orange","lg":0,"h":0.04},{"s":"orange","lg":0.02,"h":0.005},{"s":"orange","lg":0.85,"h":0.01},{"s":"orange","lg":1.21,"h":0.03},{"s":"orange","lg":1.39,"h":0.07},{"s":"orange","lg":1.57,"h":0.14},{"s":"orange","lg":1.71,"h":0.28},{"s":"orange","lg":1.8,"h":0.41},{"s":"orange","lg":1.89,"h":0.53},{"s":"orange","lg":1.98,"h":0.57},{"s":"orange","lg":2.03,"h":0.59},{"s":"orange","lg":2.07,"h":0.57},{"s":"orange","lg":2.16,"h":0.47},{"s":"orange","lg":2.3,"h":0.4},{"s":"orange","lg":2.43,"h":0.31},{"s":"orange","lg":2.57,"h":0.23},{"s":"orange","lg":2.7,"h":0.11},{"s":"orange","lg":2.84,"h":0.055},{"s":"orange","lg":2.97,"h":0.025},{"s":"orange","lg":3.2,"h":0.01},{"s":"orange","lg":4.0,"h":0.006},{"s":"orange","lg":5.45,"h":0.005}
]},
"encoding": {
 "x": {"field":"lg","type":"quantitative","scale":{"domain":[0,5.45],"nice":false,"zero":false},"axis":{"title":"PerCP-Cy5","titleFontWeight":"normal","titleFontSize":11,"titlePadding":2,"values":[0,0.301,0.477,0.602,0.699,0.778,0.845,0.903,0.954,1,1.301,1.477,1.602,1.699,1.778,1.845,1.903,1.954,2,2.301,2.477,2.602,2.699,2.778,2.845,2.903,2.954,3,3.301,3.477,3.602,3.699,3.778,3.845,3.903,3.954,4,4.301,4.477,4.602,4.699,4.778,4.845,4.903,4.954,5,5.301],"labelExpr":"datum.value % 1 == 0 ? '10' + ['⁰','¹','²','³','⁴','⁵'][datum.value] : ''","labelFontSize":9,"labelColor":"#333","labelPadding":1,"labelOffset":0,"labelFlush":false,"labelOverlap":false,"tickSize":{"condition":{"test":"datum.value % 1 == 0","value":5},"value":3},"tickColor":"#444","tickWidth":1,"domain":false}},
 "y": {"field":"h","type":"quantitative","stack":null,"scale":{"domain":[0,1],"nice":false},"axis":{"title":"Counts","labels":false,"ticks":false,"domain":false,"titleFontWeight":"normal","titleFontSize":9,"titlePadding":2}}
},
"layer": [
{"transform":[{"filter":"datum.s=='red'"}],"mark":{"type":"line","color":"#e03030","strokeWidth":1}},
{"transform":[{"filter":"datum.s=='green'"}],"mark":{"type":"area","fill":"#938b16","fillOpacity":0.8,"stroke":"#3daa35","strokeWidth":1}},
{"transform":[{"filter":"datum.s=='orange'"}],"mark":{"type":"area","fill":"#f5a040","fillOpacity":0.45,"stroke":"#f39a38","strokeWidth":1}}
]
}
]}
]},

{"spacing":0,"bounds":"flush","vconcat":[
{"width":1,"height":823,"data":{"values":[{}]},"mark":{"type":"point","opacity":0}},
{"spacing":0,"bounds":"flush","hconcat":[
{"width":48,"height":1,"data":{"values":[{}]},"mark":{"type":"point","opacity":0}},
{
"width": 200, "height": 143,
"view": {"stroke": "#9a9a9a", "strokeWidth": 1},
"title": {"text": "I.", "dx": -48, "dy": -8},
"data": {"values": [
{"s":"red","lg":1.97,"h":0.45},{"s":"red","lg":2.11,"h":0.5},{"s":"red","lg":2.25,"h":0.58},{"s":"red","lg":2.38,"h":0.66},{"s":"red","lg":2.43,"h":0.65},{"s":"red","lg":2.52,"h":0.71},{"s":"red","lg":2.66,"h":0.78},{"s":"red","lg":2.79,"h":0.815},{"s":"red","lg":2.88,"h":0.78},{"s":"red","lg":2.98,"h":0.7},{"s":"red","lg":3.07,"h":0.55},
{"s":"green","lg":0,"h":0.98},{"s":"green","lg":0.01,"h":0.14},{"s":"green","lg":0.03,"h":0.02},{"s":"green","lg":0.51,"h":0.01},{"s":"green","lg":0.88,"h":0.035},{"s":"green","lg":1.15,"h":0.07},{"s":"green","lg":1.42,"h":0.105},{"s":"green","lg":1.61,"h":0.19},{"s":"green","lg":1.79,"h":0.35},{"s":"green","lg":1.97,"h":0.445},{"s":"green","lg":2.11,"h":0.49},{"s":"green","lg":2.25,"h":0.56},{"s":"green","lg":2.38,"h":0.64},{"s":"green","lg":2.43,"h":0.63},{"s":"green","lg":2.52,"h":0.7},{"s":"green","lg":2.66,"h":0.77},{"s":"green","lg":2.79,"h":0.807},{"s":"green","lg":2.88,"h":0.77},{"s":"green","lg":2.98,"h":0.7},{"s":"green","lg":3.07,"h":0.56},{"s":"green","lg":3.16,"h":0.4},{"s":"green","lg":3.3,"h":0.235},{"s":"green","lg":3.43,"h":0.105},{"s":"green","lg":3.62,"h":0.03},{"s":"green","lg":3.89,"h":0.01},{"s":"green","lg":4.5,"h":0.005},{"s":"green","lg":5.48,"h":0.004},
{"s":"orange","lg":0,"h":0.98},{"s":"orange","lg":0.01,"h":0.33},{"s":"orange","lg":0.02,"h":0.05},{"s":"orange","lg":0.04,"h":0.08},{"s":"orange","lg":0.1,"h":0.01},{"s":"orange","lg":0.37,"h":0.035},{"s":"orange","lg":0.6,"h":0.05},{"s":"orange","lg":0.88,"h":0.07},{"s":"orange","lg":1.1,"h":0.108},{"s":"orange","lg":1.29,"h":0.165},{"s":"orange","lg":1.42,"h":0.26},{"s":"orange","lg":1.56,"h":0.375},{"s":"orange","lg":1.7,"h":0.515},{"s":"orange","lg":1.84,"h":0.7},{"s":"orange","lg":1.95,"h":0.77},{"s":"orange","lg":2.02,"h":0.84},{"s":"orange","lg":2.08,"h":0.89},{"s":"orange","lg":2.14,"h":0.79},{"s":"orange","lg":2.2,"h":0.72},{"s":"orange","lg":2.29,"h":0.62},{"s":"orange","lg":2.38,"h":0.445},{"s":"orange","lg":2.52,"h":0.28},{"s":"orange","lg":2.7,"h":0.165},{"s":"orange","lg":2.88,"h":0.095},{"s":"orange","lg":3.07,"h":0.05},{"s":"orange","lg":3.25,"h":0.025},{"s":"orange","lg":3.53,"h":0.01},{"s":"orange","lg":4.2,"h":0.005},{"s":"orange","lg":5.48,"h":0.004}
]},
"encoding": {
 "x": {"field":"lg","type":"quantitative","scale":{"domain":[0,5.48],"nice":false,"zero":false},"axis":{"title":"APC-Cy7","titleFontWeight":"normal","titleFontSize":11,"titlePadding":1,"values":[0,0.301,0.477,0.602,0.699,0.778,0.845,0.903,0.954,1,1.301,1.477,1.602,1.699,1.778,1.845,1.903,1.954,2,2.301,2.477,2.602,2.699,2.778,2.845,2.903,2.954,3,3.301,3.477,3.602,3.699,3.778,3.845,3.903,3.954,4,4.301,4.477,4.602,4.699,4.778,4.845,4.903,4.954,5,5.301,5.477],"labelExpr":"datum.value % 1 == 0 ? '10' + ['⁰','¹','²','³','⁴','⁵'][datum.value] : ''","labelFontSize":9,"labelColor":"#333","labelPadding":1,"labelOffset":2,"labelFlush":false,"labelOverlap":false,"tickSize":{"condition":{"test":"datum.value % 1 == 0","value":5},"value":3},"tickColor":"#444","tickWidth":1,"domain":false}},
 "y": {"field":"h","type":"quantitative","stack":null,"scale":{"domain":[0,1],"nice":false},"axis":{"title":"Counts","labels":false,"ticks":false,"domain":false,"titleFontWeight":"normal","titleFontSize":9,"titlePadding":2}}
},
"layer": [
{"transform":[{"filter":"datum.s=='red'"}],"mark":{"type":"line","color":"#e03030","strokeWidth":1}},
{"transform":[{"filter":"datum.s=='green'"}],"mark":{"type":"area","fill":"#938b16","fillOpacity":0.8,"stroke":"#3daa35","strokeWidth":1}},
{"transform":[{"filter":"datum.s=='orange'"}],"mark":{"type":"area","fill":"#f5a040","fillOpacity":0.45,"stroke":"#f39a38","strokeWidth":1}}
]
}
]}
]},

{"spacing":0,"bounds":"flush","vconcat":[
{"width":1,"height":818,"data":{"values":[{}]},"mark":{"type":"point","opacity":0}},
{"spacing":0,"bounds":"flush","hconcat":[
{"width":419,"height":1,"data":{"values":[{}]},"mark":{"type":"point","opacity":0}},
{
"width": 208, "height": 140,
"title": {"text": "J.", "dx": -48, "dy": -4},
"data": {"values": [
{"g":"WT","v":0.28,"hi":0.38},
{"g":"2UP_PA_gLUC_dPR","v":5.0,"hi":5.03},
{"g":"2UP_PA_gLUC_sPR","v":4.93,"hi":4.96},
{"g":"2UP_PA_fLUC_dPR","v":6.38,"hi":6.62},
{"g":"2UP_PA_fLUC_sPR","v":6.48,"hi":6.78}
]},
"layer": [
{"mark":{"type":"rule","strokeWidth":1.5,"color":"#000"},"encoding":{
 "x":{"field":"g","type":"nominal","sort":null,"scale":{"domain":["WT","2UP_PA_gLUC_dPR","2UP_PA_gLUC_sPR","2UP_PA_fLUC_dPR","2UP_PA_fLUC_sPR"],"paddingInner":0.466,"paddingOuter":0.379,"align":0.57},"axis":{"title":null,"labelAngle":-30,"labelFontWeight":"bold","labelFontSize":9.8,"tickSize":0,"domainWidth":2,"labelPadding":2}},
 "y":{"field":"v","type":"quantitative","scale":{"domain":[0,7],"nice":false},"axis":{"title":"Light Units (log10)","values":[0,1,2,3,4,5,6,7],"labelFontWeight":"bold","labelFontSize":11,"titleFontWeight":"bold","titleFontSize":10.5,"titlePadding":1,"tickSize":4,"tickWidth":1.5,"domainWidth":1.5,"labelPadding":2}},
 "y2":{"field":"hi"}}},
{"mark":{"type":"tick","size":11,"thickness":1.5,"color":"#000"},"encoding":{
 "x":{"field":"g","type":"nominal","sort":null,"scale":{"domain":["WT","2UP_PA_gLUC_dPR","2UP_PA_gLUC_sPR","2UP_PA_fLUC_dPR","2UP_PA_fLUC_sPR"],"paddingInner":0.466,"paddingOuter":0.379,"align":0.57},"axis":{"title":null,"labelAngle":-30,"labelFontWeight":"bold","labelFontSize":9.8,"tickSize":0,"domainWidth":2,"labelPadding":2}},
 "y":{"field":"hi","type":"quantitative","scale":{"domain":[0,7],"nice":false},"axis":{"title":"Light Units (log10)","values":[0,1,2,3,4,5,6,7],"labelFontWeight":"bold","labelFontSize":11,"titleFontWeight":"bold","titleFontSize":10.5,"titlePadding":1,"tickSize":4,"tickWidth":1.5,"domainWidth":1.5,"labelPadding":2}}}},
{"mark":{"type":"bar","stroke":"#000","strokeWidth":1.5},"encoding":{
 "x":{"field":"g","type":"nominal","sort":null,"scale":{"domain":["WT","2UP_PA_gLUC_dPR","2UP_PA_gLUC_sPR","2UP_PA_fLUC_dPR","2UP_PA_fLUC_sPR"],"paddingInner":0.466,"paddingOuter":0.379,"align":0.57},"axis":{"title":null,"labelAngle":-30,"labelFontWeight":"bold","labelFontSize":9.8,"tickSize":0,"domainWidth":2,"labelPadding":2}},
 "y":{"field":"v","type":"quantitative","scale":{"domain":[0,7],"nice":false},"axis":{"title":"Light Units (log10)","values":[0,1,2,3,4,5,6,7],"labelFontWeight":"bold","labelFontSize":11,"titleFontWeight":"bold","titleFontSize":10.5,"titlePadding":1,"tickSize":4,"tickWidth":1.5,"domainWidth":1.5,"labelPadding":2}},
 "fill":{"field":"g","type":"nominal","scale":{"domain":["WT","2UP_PA_gLUC_dPR","2UP_PA_gLUC_sPR","2UP_PA_fLUC_dPR","2UP_PA_fLUC_sPR"],"range":["#ffffff","#d4d4d4","#d4d4d4","#808080","#808080"]},"legend":null}}},
{"mark":{"type":"rule","strokeDash":[6,4],"strokeWidth":1.5,"color":"#000"},"encoding":{"y":{"datum":2,"type":"quantitative","scale":{"domain":[0,7],"nice":false},"axis":{"title":"Light Units (log10)","values":[0,1,2,3,4,5,6,7],"labelFontWeight":"bold","labelFontSize":11,"titleFontWeight":"bold","titleFontSize":10.5,"titlePadding":1,"tickSize":4,"tickWidth":1.5,"domainWidth":1.5,"labelPadding":2}}}}
]
}
]}
]}
]
}
